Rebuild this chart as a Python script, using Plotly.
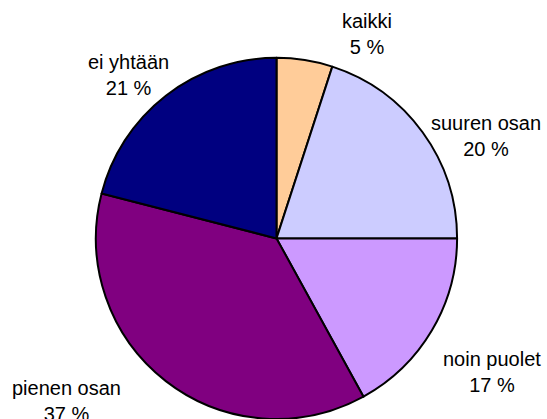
import plotly.graph_objects as go

categories = ["kaikki", "suuren osan", "noin puolet", "pienen osan", "ei yhtään"]
values = [5, 20, 17, 37, 21]
colors = ["#FFCC99", "#CCCCFF", "#CC99FF", "#800080", "#000080"]
# label anchor positions (pixels from top-left) for each category
label_px = [(367, 34), (486, 136), (492, 372), (66, 401), (128, 75)]

W, H = 547, 419

fig = go.Figure(go.Pie(
    labels=categories,
    values=values,
    marker=dict(colors=colors, line=dict(color="#000000", width=2)),
    sort=False,
    direction="clockwise",
    rotation=0,
    textinfo="none",
    hoverinfo="skip",
    showlegend=False,
    domain=dict(x=[0.1746, 0.8364], y=[0.0, 0.862]),
))

annotations = []
for cat, val, (px, py) in zip(categories, values, label_px):
    annotations.append(dict(
        x=px / W, y=1 - py / H, xref="paper", yref="paper",
        text=f"{cat}<br>{val} %", showarrow=False,
        xanchor="center", yanchor="middle", align="center",
        font=dict(family="Liberation Sans, Arial, sans-serif", size=20, color="#000000"),
    ))

fig.update_layout(
    width=W, height=H,
    margin=dict(l=0, r=0, t=0, b=0),
    paper_bgcolor="#FFFFFF",
    plot_bgcolor="#FFFFFF",
    annotations=annotations,
)

fig.write_html(
    "out.html",
    config={"displayModeBar": False},
    post_script="document.body.style.margin='0';document.body.style.overflow='hidden';",
)
